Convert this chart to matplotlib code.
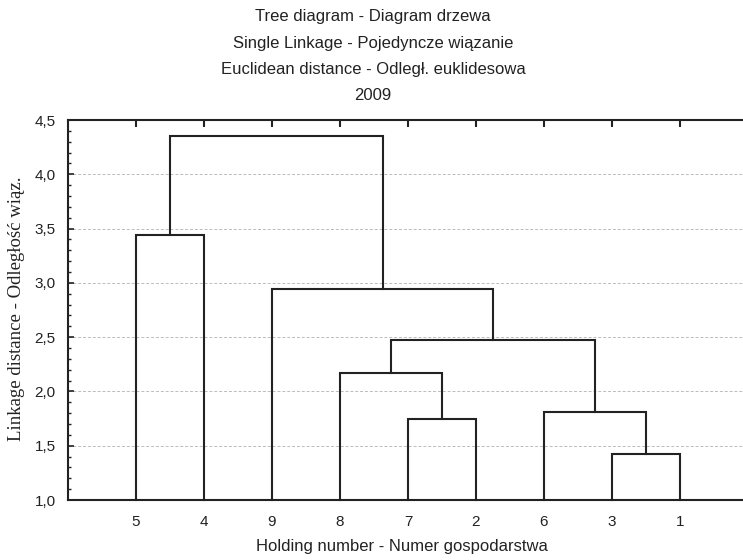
import matplotlib.pyplot as plt
from matplotlib.ticker import MultipleLocator, FuncFormatter

# leaf order along the axis and merge steps (child, child, linkage distance)
leaves = ['5', '4', '9', '8', '7', '2', '6', '3', '1']
merges = [
    ('3', '1', 1.42),
    ('7', '2', 1.75),
    ('6', 'c0', 1.81),
    ('8', 'c1', 2.17),
    ('c3', 'c2', 2.47),
    ('9', 'c4', 2.94),
    ('5', '4', 3.44),
    ('c6', 'c5', 4.35),
]
titles = ['Tree diagram - Diagram drzewa',
          'Single Linkage - Pojedyncze wiązanie',
          'Euclidean distance - Odległ. euklidesowa',
          '2009']

W, H = 743, 560
ymin, ymax = 1.0, 4.5
dark = '#222222'

fig = plt.figure(figsize=(W / 100, H / 100), dpi=100)
ax = fig.add_axes([68 / W, 1 - 500 / H, 1 - 68 / W, 380 / H])

pos = {lab: i + 1 for i, lab in enumerate(leaves)}
hgt = {lab: ymin for lab in leaves}
for k, (a, b, d) in enumerate(merges):
    xa, xb = pos[a], pos[b]
    ax.plot([xa, xa, xb, xb], [hgt[a], d, d, hgt[b]], color=dark, lw=1.5,
            solid_joinstyle='miter', zorder=3, clip_on=False)
    name = 'c%d' % k
    pos[name] = (xa + xb) / 2
    hgt[name] = d

ax.set_xlim(0, (W - 68) / 68)
ax.set_ylim(ymin, ymax)

ax.set_xticks(range(1, len(leaves) + 1))
ax.set_xticklabels(leaves)
ax.yaxis.set_major_locator(MultipleLocator(0.5))
ax.yaxis.set_minor_locator(MultipleLocator(0.1))
ax.yaxis.set_major_formatter(FuncFormatter(lambda v, p: ('%.1f' % v).replace('.', ',')))

ax.tick_params(axis='x', bottom=False, top=True, direction='in', length=5, width=1.5,
               color=dark, labelsize=11, labelcolor=dark, pad=10.5)
ax.tick_params(axis='y', which='major', direction='in', length=4, width=1.2, color=dark,
               labelsize=11, labelcolor=dark, pad=9)
ax.tick_params(axis='y', which='minor', direction='in', length=2.5, width=1, color=dark)
for lab in ax.get_xticklabels() + ax.get_yticklabels():
    lab.set_family('Liberation Sans')

ax.spines['right'].set_visible(False)
for s in ['left', 'top', 'bottom']:
    ax.spines[s].set_linewidth(1.5)
    ax.spines[s].set_color(dark)

ax.grid(axis='y', which='major', color='#bbbbbb', ls=(0, (3, 2)), lw=0.7, zorder=0)

for i, t in enumerate(titles):
    fig.text(373 / W, 1 - (17 + 26.3 * i) / H, t, ha='center', va='center',
             fontsize=12, family='Liberation Sans', color=dark)

fig.text(402 / W, 1 - 546 / H, 'Holding number - Numer gospodarstwa', ha='center',
         va='center', fontsize=12, family='Liberation Sans', color=dark)
fig.text(17 / W, 1 - 309 / H, 'Linkage distance - Odległość wiąz.', ha='center',
         va='center', rotation=90, fontsize=13.5, family='Liberation Serif', color=dark)

fig.savefig('out.png', dpi=100)
